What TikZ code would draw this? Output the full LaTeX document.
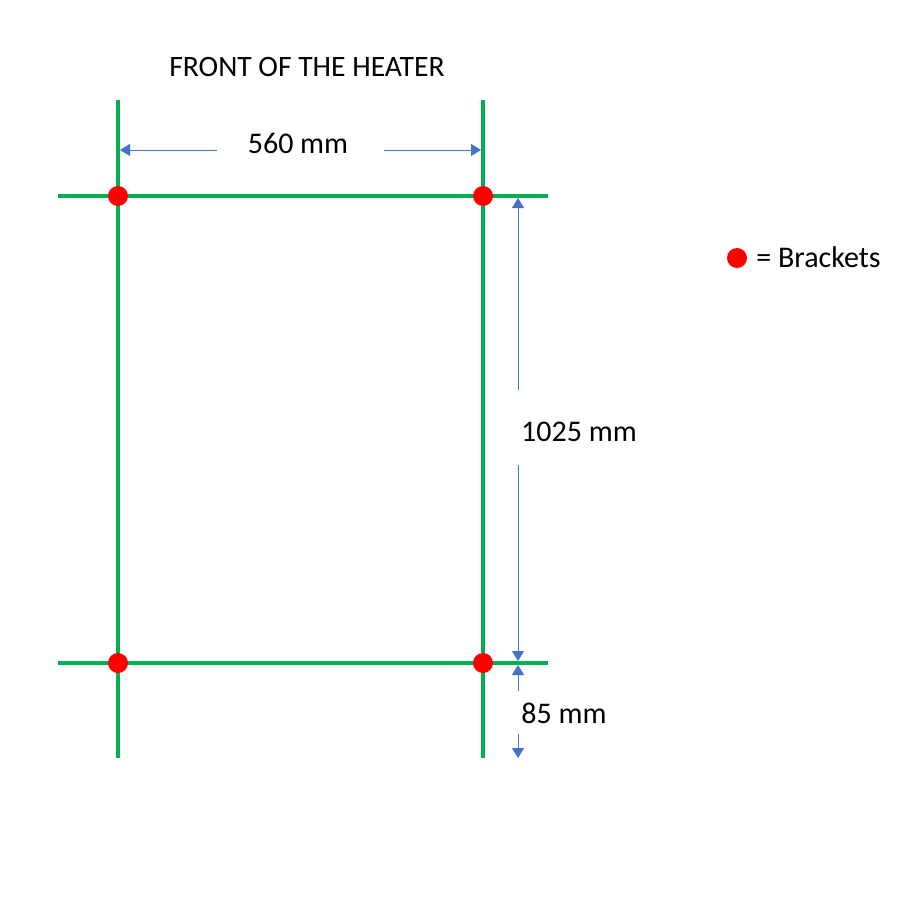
\documentclass[tikz,border=0pt]{standalone}
\usepackage{fontspec}
\setmainfont{Carlito}
\usetikzlibrary{arrows.meta}
\definecolor{lgreen}{HTML}{00B050}
\definecolor{dimblue}{HTML}{4472C4}
\begin{document}
\begin{tikzpicture}[x=0.5pt,y=-0.5pt,
  rail/.style={draw=lgreen,line width=2pt},
  dimline/.style={draw=dimblue,line width=0.5pt,-{Triangle[length=5pt,width=6pt]}},
  bracket/.style={circle,fill=red,inner sep=0pt,minimum size=10pt},
  lbl/.style={font=\fontsize{15}{17}\selectfont,inner sep=0pt}]
\useasboundingbox[fill=white] (0,0) rectangle (900,900);
% rails
\coordinate (vlt) at (118,100); \coordinate (vlb) at (118,758);
\coordinate (vrt) at (483,100); \coordinate (vrb) at (483,758);
\coordinate (htl) at (58,196);  \coordinate (htr) at (548,196);
\coordinate (hbl) at (58,663);  \coordinate (hbr) at (548,663);
\draw[rail] (vlt) -- (vlb);
\draw[rail] (vrt) -- (vrb);
\draw[rail] (htl) -- (htr);
\draw[rail] (hbl) -- (hbr);
% brackets
\node[bracket] (b1) at (118,196) {};
\node[bracket] (b2) at (483,196) {};
\node[bracket] (b3) at (118,663) {};
\node[bracket] (b4) at (483,663) {};
% title
\node[font=\fontsize{14.8}{17}\selectfont,inner sep=0pt] (title) at (307,67) {FRONT OF THE HEATER};
% 560 mm
\node[lbl] (w) at (298,143) {560 mm};
\coordinate (wl1) at (217,150); \coordinate (wl2) at (120,150);
\coordinate (wr1) at (384,150); \coordinate (wr2) at (481,150);
\draw[dimline] (wl1) -- (wl2);
\draw[dimline] (wr1) -- (wr2);
% 1025 mm
\node[lbl] (h) at (579,432) {1025 mm};
\coordinate (ht1) at (518,390); \coordinate (ht2) at (518,198);
\coordinate (hb1) at (518,465); \coordinate (hb2) at (518,661);
\draw[dimline] (ht1) -- (ht2);
\draw[dimline] (hb1) -- (hb2);
% 85 mm
\node[lbl] (s) at (564,713) {85 mm};
\coordinate (st1) at (518,691); \coordinate (st2) at (518,665);
\coordinate (sb1) at (518,734); \coordinate (sb2) at (518,758);
\draw[dimline] (st1) -- (st2);
\draw[dimline] (sb1) -- (sb2);
% legend
\node[bracket] (ldot) at (737,258) {};
\node[lbl,anchor=west] (ltext) at (756,257) {= Brackets};
\end{tikzpicture}
\end{document}
